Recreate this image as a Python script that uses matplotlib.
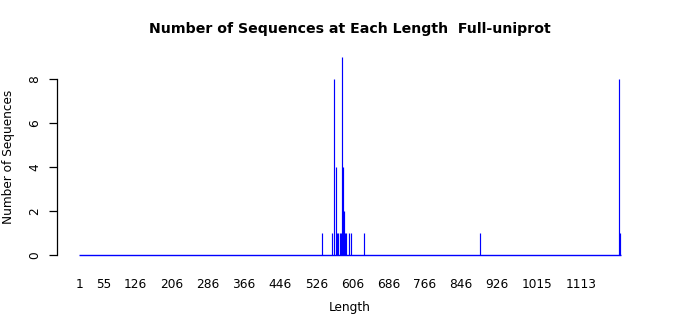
import matplotlib
matplotlib.use("Agg")
import matplotlib.pyplot as plt

# Sequence lengths with non-zero counts and their counts
lengths = [539, 561, 566, 569, 571, 574, 578, 580, 582, 584, 586, 587, 589, 592, 598, 602, 632, 889, 1195, 1199]
counts  = [1,   1,   8,   4,   1,   1,   1,   1,   9,   4,   1,   2,   1,   1,   1,   1,   1,   1,   8,    1]
min_length = 1
max_length = 1200

tick_labels = ["1", "55", "126", "206", "286", "366", "446", "526", "606", "686",
               "766", "846", "926", "1015", "1113"]
y_ticks = [0, 2, 4, 6, 8]

W, H = 700, 315
fig = plt.figure(figsize=(W / 100, H / 100), dpi=100)
ax = fig.add_axes([57 / W, (H - 263) / H, (643 - 57) / W, (263 - 49) / H])

# baseline of zero-height bars
ax.hlines(0, min_length - 0.5, max_length + 0.5, color="blue", linewidth=1.0)
# bars (narrow, one per length)
ax.vlines(lengths, 0, counts, color="blue", linewidth=0.85)

ax.set_xlim(min_length - 49, max_length + 49)
ax.set_ylim(-0.36, 9.36)

for s in ["top", "right", "bottom"]:
    ax.spines[s].set_visible(False)
ax.spines["left"].set_bounds(0, 8)
ax.spines["left"].set_linewidth(0.9)

ax.set_yticks(y_ticks)
ax.set_yticklabels([str(v) for v in y_ticks], rotation=90, va="center", fontsize=8.7)
ax.tick_params(axis="y", length=5.5, width=0.9, pad=6)

ax.set_xticks([int(t) for t in tick_labels])
ax.set_xticklabels(tick_labels, fontsize=8.7)
ax.tick_params(axis="x", length=0, pad=11)

fig.text(350 / W, 1 - 307 / H, "Length", ha="center", va="center", fontsize=8.7)
fig.text(9 / W, 1 - 157 / H, "Number of Sequences", ha="center", va="center",
         rotation=90, fontsize=8.7)
fig.text(350 / W, 1 - 29 / H, "Number of Sequences at Each Length  Full-uniprot",
         ha="center", va="center", fontsize=10.2, fontweight="bold")

fig.savefig("out.png", dpi=100)
